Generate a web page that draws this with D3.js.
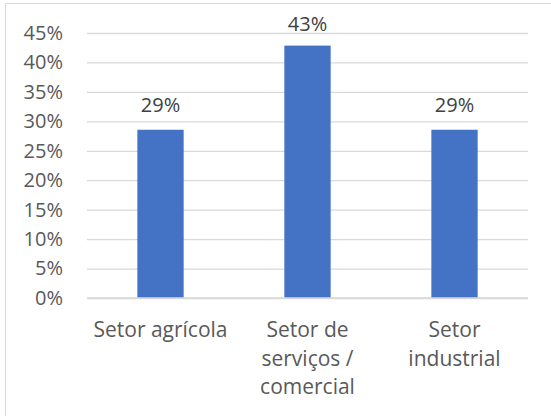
<!DOCTYPE html>
<html><head><meta charset="utf-8">
<script src="https://cdn.jsdelivr.net/npm/d3@7"></script>
<style>body{margin:0;background:#fff;}svg{display:block;}</style>
</head><body>
<div id="chart"></div>
<script>
const categories = [["Setor agrícola"], ["Setor de", "serviços /", "comercial"], ["Setor", "industrial"]];
const values = [0.2857, 0.4286, 0.2857];
const valueLabels = ["29%", "43%", "29%"];
const yTicks = [0, 0.05, 0.10, 0.15, 0.20, 0.25, 0.30, 0.35, 0.40, 0.45];

const W = 551, H = 416;
const svg = d3.select("#chart").append("svg").attr("width", W).attr("height", H);
const font = "'Open Sans', sans-serif";

svg.append("rect").attr("x", 5.5).attr("y", 3.5).attr("width", 560).attr("height", 420)
  .attr("fill", "#fff").attr("stroke", "#d9d9d9").attr("stroke-width", 1);

const x = d3.scaleBand().domain(d3.range(categories.length)).range([87, 528]).paddingInner(0.685).paddingOuter(0.3425);
const y = d3.scaleLinear().domain([0, 0.45]).range([298, 33]);

const yAxis = d3.axisLeft(y).tickValues(yTicks).tickFormat(d3.format(".0%")).tickSize(-(528 - 87)).tickPadding(24);
const gy = svg.append("g").attr("transform", "translate(87,0)").call(yAxis);
gy.select(".domain").remove();
gy.selectAll(".tick line").attr("stroke", "#d9d9d9").attr("stroke-width", 1.3);
gy.selectAll(".tick text").attr("fill", "#595959").style("font-family", font).style("font-size", "20px");

svg.selectAll("rect.bar").data(values).join("rect").attr("class", "bar")
  .attr("x", (d, i) => x(i)).attr("width", x.bandwidth())
  .attr("y", d => y(d)).attr("height", d => y(0) - y(d)).attr("fill", "#4472C4");

svg.append("line").attr("x1", 87).attr("x2", 528).attr("y1", y(0)).attr("y2", y(0))
  .attr("stroke", "#d9d9d9").attr("stroke-width", 1.3);

svg.selectAll("text.vl").data(values).join("text").attr("class", "vl")
  .attr("x", (d, i) => x(i) + x.bandwidth() / 2)
  .attr("y", d => Math.max(y(d) - 18, 31))
  .attr("text-anchor", "middle").attr("fill", "#404040")
  .style("font-family", font).style("font-size", "20px")
  .text((d, i) => valueLabels[i]);

const xl = svg.selectAll("text.cl").data(categories).join("text").attr("class", "cl")
  .attr("text-anchor", "middle").attr("fill", "#595959")
  .style("font-family", font).style("font-size", "21px");
xl.each(function(lines, i) {
  const t = d3.select(this);
  lines.forEach((ln, j) => {
    t.append("tspan").attr("x", x(i) + x.bandwidth() / 2).attr("y", 337 + j * 28.5).text(ln);
  });
});
</script>
</body></html>
